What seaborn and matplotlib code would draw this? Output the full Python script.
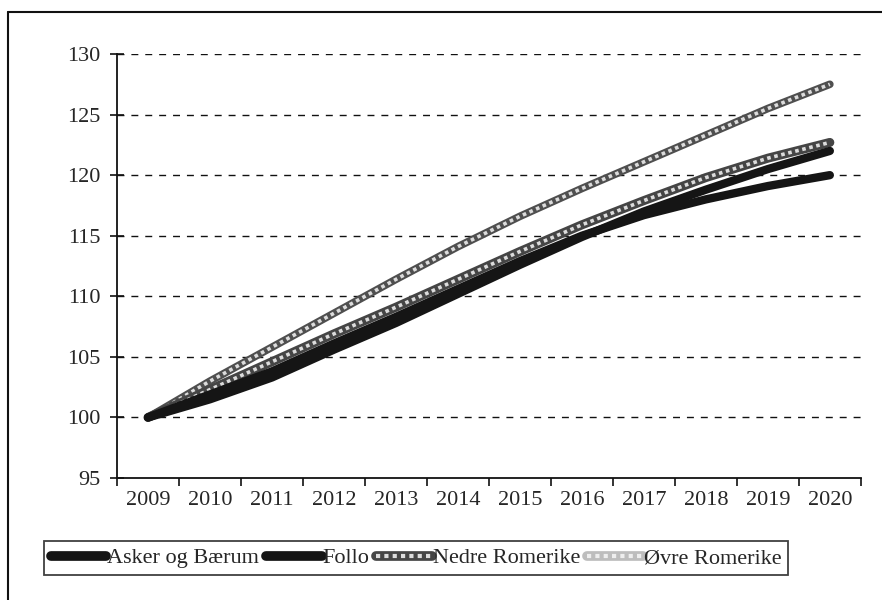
import matplotlib
matplotlib.use("Agg")
import matplotlib.pyplot as plt
import seaborn as sns
import pandas as pd
from matplotlib.lines import Line2D
from matplotlib.legend_handler import HandlerTuple

years = [2009, 2010, 2011, 2012, 2013, 2014, 2015, 2016, 2017, 2018, 2019, 2020]
asker_baerum = [100, 101.5, 103.3, 105.6, 107.8, 110.2, 112.6, 114.9, 117.0, 118.8, 120.5, 122.0]
follo = [100, 101.9, 103.8, 106.1, 108.3, 110.6, 112.9, 115.0, 116.7, 118.0, 119.1, 120.0]
nedre_romerike = [100, 102.3, 104.6, 106.9, 109.1, 111.4, 113.7, 115.9, 117.9, 119.8, 121.4, 122.7]
ovre_romerike = [100, 103.0, 105.8, 108.6, 111.4, 114.1, 116.6, 118.9, 121.1, 123.3, 125.5, 127.5]
series_names = ["Asker og Bærum", "Follo", "Nedre Romerike", "Øvre Romerike"]
y_ticks = [95, 100, 105, 110, 115, 120, 125, 130]

sns.set_theme(style="white")
plt.rcParams["font.family"] = ["Liberation Serif", "DejaVu Serif"]

rows = []
for name, vals in zip(series_names, [asker_baerum, follo, nedre_romerike, ovre_romerike]):
    for i, (yr, v) in enumerate(zip(years, vals)):
        rows.append({"pos": i, "year": str(yr), "value": v, "series": name})
df = pd.DataFrame(rows)

fig = plt.figure(figsize=(8.82, 6.0), dpi=100)
ax = fig.add_axes([0.1327, 0.2033, 0.976 - 0.1327, 0.91 - 0.2033])

colors = {"Asker og Bærum": "#151515", "Follo": "#151515",
          "Nedre Romerike": "#454545", "Øvre Romerike": "#4f4f4f"}
widths = {"Asker og Bærum": 6.0, "Follo": 6.0, "Nedre Romerike": 6.5, "Øvre Romerike": 5.5}

for name in ["Øvre Romerike", "Nedre Romerike", "Follo", "Asker og Bærum"]:
    sub = df[df.series == name]
    sns.lineplot(data=sub, x="pos", y="value", ax=ax, color=colors[name],
                 linewidth=widths[name], legend=False, solid_capstyle="round",
                 solid_joinstyle="round")
    if name in ("Nedre Romerike", "Øvre Romerike"):
        sns.lineplot(data=sub, x="pos", y="value", ax=ax, color="#dcdcdc",
                     linewidth=2.6, legend=False, dashes=False,
                     linestyle=(0, (1.0, 1.0)))

ax.set_xlim(-0.5, len(years) - 0.5)
ax.set_ylim(95, 130)
ax.set_yticks(y_ticks)
ax.set_yticklabels([str(t) for t in y_ticks], fontsize=16)
ax.set_xticks(range(len(years)))
ax.set_xticklabels([str(y) for y in years], fontsize=16)
ax.set_xlabel("")
ax.set_ylabel("")

for t in y_ticks[1:]:
    ax.axhline(t, color="#111111", linewidth=1.0, linestyle=(0, (5, 5)), zorder=0)

for side in ["top", "right"]:
    ax.spines[side].set_visible(False)
for side in ["left", "bottom"]:
    ax.spines[side].set_visible(True)
    ax.spines[side].set_color("#111111")
    ax.spines[side].set_linewidth(1.3)

ax.tick_params(axis="y", which="major", direction="inout", length=10, width=1.2,
               color="#111111", left=True, pad=7)
ax.tick_params(axis="x", which="major", length=0, pad=9)
ax.set_xticks([i - 0.5 for i in range(len(years) + 1)], minor=True)
ax.tick_params(axis="x", which="minor", direction="out", length=6, width=1.2,
               color="#111111", bottom=True)

h_asker = Line2D([], [], color="#151515", linewidth=7, solid_capstyle="round")
h_follo = Line2D([], [], color="#151515", linewidth=7, solid_capstyle="round")
h_nedre = (Line2D([], [], color="#454545", linewidth=7),
           Line2D([], [], color="#dcdcdc", linewidth=3, linestyle=(0, (1.0, 1.0))))
h_ovre = (Line2D([], [], color="#bdbdbd", linewidth=7),
          Line2D([], [], color="#eeeeee", linewidth=3, linestyle=(0, (1.0, 1.0))))
leg = fig.legend([h_asker, h_follo, h_nedre, h_ovre], series_names,
                 handler_map={tuple: HandlerTuple(ndivide=1, pad=0)},
                 loc="center", bbox_to_anchor=(0.4717, 0.07), ncol=4,
                 frameon=True, fancybox=False, fontsize=16, handlelength=2.5,
                 handletextpad=0.05, columnspacing=0.3, borderpad=0.3)
leg.get_frame().set_edgecolor("#111111")
leg.get_frame().set_linewidth(1.3)

fig.add_artist(Line2D([8 / 882, 1.0], [1 - 12 / 600, 1 - 12 / 600],
                      transform=fig.transFigure, color="#111111", linewidth=1.5))
fig.add_artist(Line2D([8 / 882, 8 / 882], [0.0, 1 - 12 / 600],
                      transform=fig.transFigure, color="#111111", linewidth=1.5))

fig.savefig("out.png", dpi=100)
